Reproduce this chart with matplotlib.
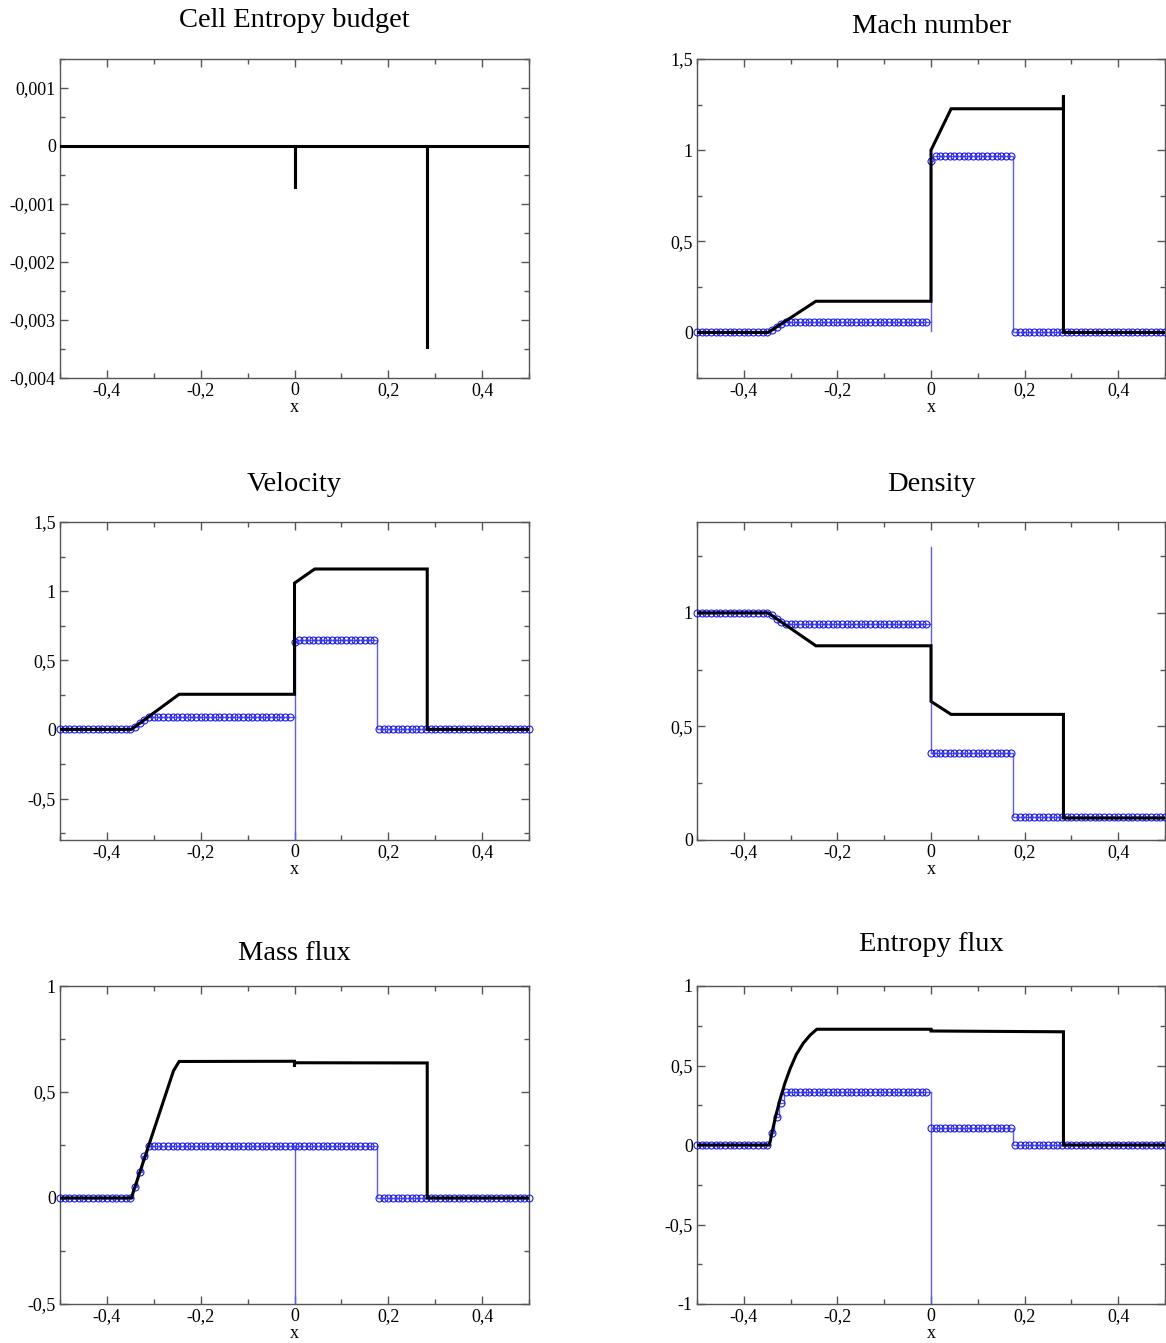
import numpy as np
import matplotlib
matplotlib.use("Agg")
import matplotlib.pyplot as plt
from matplotlib.ticker import MultipleLocator, FuncFormatter

plt.rcParams['font.family'] = ['Liberation Serif', 'DejaVu Serif']

# mesh of the numerical solution (dx = 0.01)
cell_x = np.round(np.linspace(-0.5, 0.5, 101), 2)

# numerical solution (blue circles), one value per cell
mach_num = [0.0] * 16 + [0.012, 0.028, 0.044] + [0.055] * 31 + [0.94] + [0.967] * 17 + [0.0] * 33
velocity_num = [0.0] * 16 + [0.019, 0.046, 0.070] + [0.087] * 31 + [0.635] + [0.645] * 17 + [0.0] * 33
density_num = [1.0] * 16 + [0.989, 0.975, 0.961] + [0.951] * 31 + [0.383] + [0.381] * 17 + [0.102] * 33
mass_num = [0.0] * 16 + [0.053, 0.125, 0.197] + [0.245] * 31 + [0.245] + [0.245] * 17 + [0.0] * 33
entropy_num = [0.0] * 16 + [0.073, 0.178, 0.266] + [0.332] * 31 + [0.105] + [0.105] * 17 + [0.0] * 33

# interface value range of the numerical solution at x = 0 (low, high)
mach_iface = (0.01, 0.94)
velocity_iface = (-0.9, 0.635)
density_iface = (0.383, 1.29)
mass_iface = (-0.6, 0.245)
entropy_iface = (-1.1, 0.332)

# exact solution (black line)
budget_x = [-0.5, 0.0, 0.0, 0.0, 0.283, 0.283, 0.283, 0.5]
budget_y = [0.0, 0.0, -0.00073, 0.0, 0.0, -0.00348, 0.0, 0.0]

mach_x = [-0.5, -0.348, -0.246, 0.0, 0.0, 0.043, 0.283, 0.283, 0.283, 0.5]
mach_y = [0.0, 0.0, 0.171, 0.171, 1.0, 1.227, 1.227, 1.30, 0.0, 0.0]

velocity_x = [-0.5, -0.348, -0.246, 0.0, 0.0, 0.043, 0.283, 0.283, 0.5]
velocity_y = [0.0, 0.0, 0.254, 0.254, 1.058, 1.16, 1.16, 0.0, 0.0]

density_x = [-0.5, -0.348, -0.246, 0.0, 0.0, 0.043, 0.283, 0.283, 0.5]
density_y = [1.0, 1.0, 0.855, 0.855, 0.61, 0.553, 0.553, 0.097, 0.097]

mass_x = [-0.5, -0.348, -0.258, -0.246, 0.0, 0.0, 0.0, 0.283, 0.283, 0.5]
mass_y = [0.0, 0.0, 0.60, 0.644, 0.645, 0.618, 0.638, 0.637, 0.0, 0.0]

entropy_x = [-0.5, -0.346, -0.343, -0.340, -0.332, -0.323, -0.312, -0.301, -0.288,
             -0.273, -0.258, -0.244, 0.0, 0.0, 0.283, 0.283, 0.5]
entropy_y = [0.0, 0.0, 0.03, 0.075, 0.18, 0.283, 0.39, 0.48, 0.568,
             0.64, 0.692, 0.728, 0.728, 0.717, 0.712, 0.0, 0.0]

W, H = 1166, 1343
fig = plt.figure(figsize=(W / 100, H / 100), dpi=100)


def comma_fmt(v, pos):
    v = round(v, 6)
    if v == 0:
        return "0"
    return f"{v:g}".replace(".", ",")


def make_axes(px_left, px_top, px_w, px_h, title, ylim, ymaj, ymin, title_pad):
    ax = fig.add_axes([px_left / W, 1 - (px_top + px_h) / H, px_w / W, px_h / H])
    ax.set_xlim(-0.5, 0.5)
    ax.set_ylim(*ylim)
    ax.xaxis.set_major_locator(MultipleLocator(0.2))
    ax.xaxis.set_minor_locator(MultipleLocator(0.1))
    ax.yaxis.set_major_locator(MultipleLocator(ymaj))
    ax.yaxis.set_minor_locator(MultipleLocator(ymin))
    ax.xaxis.set_major_formatter(FuncFormatter(comma_fmt))
    ax.yaxis.set_major_formatter(FuncFormatter(comma_fmt))
    ax.tick_params(which="both", direction="in", top=True, right=True,
                   color="#555555", width=1.0, labelsize=13, pad=3)
    ax.tick_params(which="major", length=6)
    ax.tick_params(which="minor", length=3.5)
    for s in ax.spines.values():
        s.set_color("#555555")
        s.set_linewidth(1.0)
    ax.set_xlabel("x", fontsize=13, labelpad=0)
    ax.set_title(title, fontsize=20.5, pad=title_pad)
    return ax


def draw_numeric(ax, vals, iface):
    vals = np.asarray(vals)
    left = cell_x < 0
    xl = np.r_[cell_x[left], 0.0]
    yl = np.r_[vals[left], vals[left][-1]]
    kw = dict(color="#5a5aff", lw=1.0, zorder=2)
    ax.plot(xl, yl, drawstyle="steps-mid", **kw)
    ax.plot(cell_x[~left], vals[~left], drawstyle="steps-mid", **kw)
    ax.plot([0.0, 0.0], list(iface), **kw)
    ax.plot(cell_x, vals, ls="none", marker="o", ms=5.0, mfc="none",
            mec="#1a1aff", mew=0.8, zorder=3, clip_on=False)


def draw_exact(ax, x, y):
    ax.plot(x, y, color="black", lw=2.2, zorder=4, solid_joinstyle="miter")


# top-left: cell entropy budget
ax = make_axes(60, 59, 469, 319, "Cell Entropy budget", (-0.004, 0.0015), 0.001, 0.0005, 23)
draw_exact(ax, budget_x, budget_y)

# top-right: Mach number
ax = make_axes(697, 59, 468, 319, "Mach number", (-0.25, 1.5), 0.5, 0.25, 19)
draw_numeric(ax, mach_num, mach_iface)
draw_exact(ax, mach_x, mach_y)

# middle-left: velocity
ax = make_axes(60, 522, 469, 318, "Velocity", (-0.8, 1.5), 0.5, 0.25, 22)
draw_numeric(ax, velocity_num, velocity_iface)
draw_exact(ax, velocity_x, velocity_y)

# middle-right: density
ax = make_axes(697, 522, 468, 318, "Density", (0, 1.4), 0.5, 0.25, 22)
draw_numeric(ax, density_num, density_iface)
draw_exact(ax, density_x, density_y)

# bottom-left: mass flux
ax = make_axes(60, 986, 469, 318, "Mass flux", (-0.5, 1.0), 0.5, 0.25, 19)
draw_numeric(ax, mass_num, mass_iface)
draw_exact(ax, mass_x, mass_y)

# bottom-right: entropy flux
ax = make_axes(697, 986, 468, 318, "Entropy flux", (-1.0, 1.0), 0.5, 0.25, 25)
draw_numeric(ax, entropy_num, entropy_iface)
draw_exact(ax, entropy_x, entropy_y)

fig.savefig("out.png", dpi=100)
